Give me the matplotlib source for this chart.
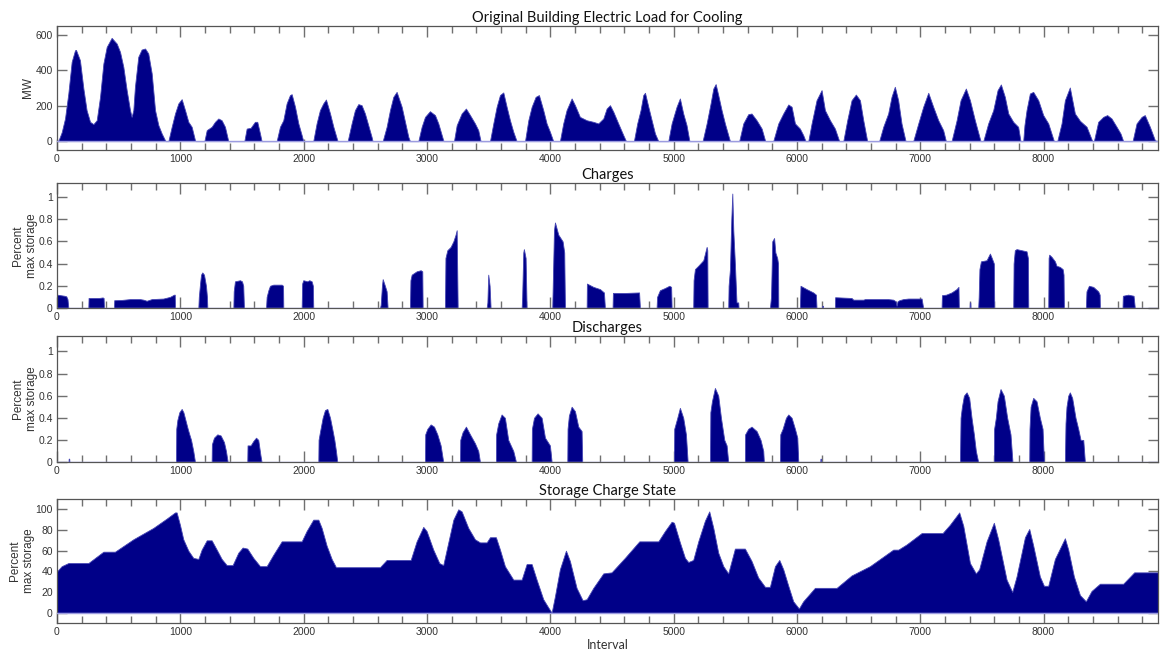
import matplotlib
matplotlib.use("Agg")
import matplotlib.pyplot as plt
from matplotlib.ticker import MultipleLocator, FuncFormatter

# ---------------------------------------------------------------------------
# Hourly building cooling load (MW), breakpoints of each daily-season hump
# ---------------------------------------------------------------------------
load_hour = [
    10, 38, 65, 92, 119, 146, 154, 186, 214, 240, 268, 295, 322, 349, 376, 403,
    443, 484, 511, 538, 565, 592, 605, 619, 632, 659, 686, 714, 740, 768, 795,
    822, 849, 876, 881,
    903, 930, 957, 984, 1011, 1038, 1065, 1092, 1119, 1124,
    1195, 1214, 1254, 1281, 1308, 1335, 1362, 1389,
    1519, 1538, 1570, 1605, 1624, 1646, 1659,
    1781, 1808, 1835, 1862, 1889, 1903, 1930, 1957, 1984, 1997,
    2078, 2105, 2132, 2159, 2181, 2214, 2241, 2273, 2275,
    2357, 2389, 2416, 2443, 2470, 2497, 2524, 2551, 2559,
    2641, 2673, 2700, 2727, 2754, 2795, 2822, 2849, 2862,
    2930, 2957, 2984, 3024, 3065, 3092, 3132, 3135,
    3219, 3241, 3281, 3316, 3349, 3389, 3416, 3435,
    3511, 3538, 3565, 3592, 3619, 3646, 3673, 3700, 3727,
    3795, 3822, 3849, 3881, 3908, 3943, 3970, 3997, 4024,
    4078, 4105, 4132, 4173, 4200, 4240, 4295, 4349, 4389, 4430, 4457, 4484,
    4511, 4551, 4592, 4614,
    4678, 4705, 4732, 4754, 4768, 4795, 4822, 4849, 4876,
    4957, 4984, 5024, 5051, 5078, 5105, 5127, 5130,
    5235, 5268, 5300, 5322, 5341, 5362, 5389, 5416, 5443, 5457,
    5532, 5565, 5605, 5632, 5673, 5714, 5741, 5745,
    5808, 5849, 5889, 5930, 5957, 5984, 6024, 6051, 6070,
    6092, 6119, 6159, 6200, 6227, 6268, 6308, 6343,
    6376, 6408, 6443, 6478, 6511, 6538, 6570,
    6667, 6700, 6740, 6767, 6794, 6821, 6848, 6881,
    6943, 6984, 7024, 7065, 7105, 7146, 7186, 7208,
    7254, 7295, 7327, 7370, 7403, 7443, 7489,
    7511, 7551, 7592, 7627, 7654, 7686, 7714, 7754, 7794, 7813,
    7835, 7845, 7862, 7889, 7916, 7957, 7997, 8038, 8084,
    8111, 8146, 8173, 8213, 8254, 8295, 8349, 8395,
    8408, 8443, 8484, 8516, 8551, 8592, 8624, 8646,
    8722, 8754, 8795, 8821, 8862, 8903, 8916,
]
load_mw = [
    0, 50, 128, 270, 448, 513, 515, 457, 297, 175, 109, 96, 118, 250, 438, 532,
    583, 551, 504, 419, 288, 175, 137, 175, 307, 476, 517, 523, 495, 382, 175,
    90, 43, 5, 0,
    0, 81, 156, 213, 237, 175, 109, 81, 5, 0,
    0, 62, 81, 109, 128, 118, 81, 0,
    0, 71, 75, 109, 109, 43, 0,
    0, 81, 118, 213, 260, 265, 194, 100, 34, 0,
    0, 100, 175, 213, 235, 156, 81, 5, 0,
    0, 100, 175, 209, 203, 156, 90, 24, 0,
    0, 81, 175, 250, 278, 194, 109, 24, 0,
    0, 81, 137, 169, 147, 100, 5, 0,
    0, 90, 156, 184, 147, 100, 62, 0,
    0, 100, 194, 260, 275, 194, 118, 53, 0,
    0, 118, 194, 250, 260, 175, 100, 53, 0,
    0, 100, 175, 241, 203, 137, 118, 109, 100, 128, 184, 203,
    166, 100, 34, 0,
    0, 100, 175, 260, 273, 194, 118, 43, 0,
    0, 100, 194, 241, 156, 90, 5, 0,
    0, 100, 213, 297, 322, 260, 175, 100, 34, 0,
    0, 100, 152, 156, 118, 71, 5, 0,
    0, 100, 156, 207, 194, 100, 71, 34, 0,
    0, 100, 231, 288, 175, 118, 71, 0,
    0, 118, 231, 263, 231, 118, 0,
    0, 81, 156, 250, 307, 231, 100, 0,
    0, 100, 194, 273, 194, 118, 62, 0,
    0, 118, 231, 297, 231, 118, 0,
    0, 100, 175, 288, 320, 250, 156, 109, 81, 0,
    0, 90, 175, 269, 278, 231, 147, 100, 0,
    0, 100, 231, 303, 156, 115, 81, 0,
    0, 109, 137, 147, 128, 81, 43, 0,
    0, 100, 137, 147, 81, 5, 0,
]

# ---------------------------------------------------------------------------
# Storage charging rate (fraction of max storage)
# ---------------------------------------------------------------------------
charge_hour = [
    0, 30, 60, 75, 85, 92,
    254, 256, 300, 340, 370, 378, 381,
    462, 464, 520, 592, 673, 700, 727, 768, 862, 916, 949, 955, 957,
    1146, 1150, 1160, 1168, 1178, 1192, 1208, 1216, 1219,
    1430, 1433, 1443, 1484, 1500, 1510, 1516,
    1695, 1700, 1714, 1727, 1754, 1822, 1833, 1835,
    1984, 1988, 1997, 2030, 2046, 2065, 2075, 2078,
    2619, 2625, 2635, 2641, 2659, 2673, 2681,
    2862, 2866, 2876, 2916, 2949, 2962, 2965,
    3146, 3150, 3165, 3192, 3214, 3232, 3241, 3249,
    3484, 3490, 3497, 3508, 3516,
    3768, 3772, 3781, 3786, 3800, 3808,
    4016, 4020, 4030, 4038, 4065, 4100, 4113, 4119,
    4295, 4297, 4349, 4403, 4435, 4443,
    4505, 4508, 4600, 4720, 4727,
    4862, 4866, 4889, 4930, 4965, 4980, 4984,
    5159, 5162, 5173, 5200, 5241, 5268, 5273, 5276,
    5443, 5446, 5457, 5468, 5476, 5484, 5497, 5510, 5524, 5527,
    5781, 5790, 5800, 5815, 5825, 5840, 5847, 5849,
    6024, 6029, 6078, 6132, 6154, 6159,
    6204, 6206, 6210, 6212,
    6308, 6310, 6443, 6457, 6538, 6552, 6740, 6781, 6800, 6808, 6816, 6830,
    6862, 6903, 7011, 7024,
    7173, 7176, 7210, 7254, 7294, 7310, 7313,
    7400, 7402, 7406, 7408,
    7470, 7474, 7480, 7492, 7538, 7565, 7580, 7597, 7600,
    7754, 7757, 7767, 7781, 7822, 7862, 7873, 7876,
    8038, 8041, 8046, 8065, 8092, 8105, 8132, 8155, 8162, 8165,
    8343, 8348, 8368, 8403, 8443, 8455, 8457,
    8640, 8643, 8686, 8730, 8740,
]
charge_frac = [
    0.12, 0.115, 0.11, 0.105, 0.08, 0,
    0, 0.09, 0.09, 0.09, 0.095, 0.09, 0,
    0, 0.07, 0.072, 0.08, 0.08, 0.075, 0.065, 0.08, 0.085, 0.10, 0.12, 0.12, 0,
    0, 0.10, 0.22, 0.30, 0.32, 0.30, 0.20, 0.10, 0,
    0, 0.15, 0.24, 0.25, 0.24, 0.20, 0,
    0, 0.10, 0.16, 0.20, 0.21, 0.21, 0.20, 0,
    0, 0.22, 0.25, 0.24, 0.25, 0.24, 0.20, 0,
    0, 0.03, 0.20, 0.26, 0.20, 0.15, 0,
    0, 0.25, 0.30, 0.33, 0.34, 0.33, 0,
    0, 0.45, 0.52, 0.55, 0.60, 0.66, 0.70, 0,
    0, 0.05, 0.30, 0.20, 0,
    0, 0.10, 0.50, 0.53, 0.45, 0,
    0, 0.20, 0.70, 0.77, 0.66, 0.60, 0.50, 0,
    0, 0.22, 0.19, 0.17, 0.14, 0,
    0, 0.136, 0.135, 0.14, 0,
    0, 0.10, 0.16, 0.18, 0.20, 0.19, 0,
    0, 0.25, 0.35, 0.38, 0.43, 0.55, 0.52, 0,
    0, 0.20, 0.35, 0.80, 1.03, 0.70, 0.40, 0.05, 0.05, 0,
    0, 0.10, 0.60, 0.63, 0.50, 0.45, 0.40, 0,
    0, 0.20, 0.17, 0.14, 0.12, 0,
    0, 0.02, 0.02, 0,
    0, 0.097, 0.09, 0.075, 0.075, 0.08, 0.08, 0.075, 0.06, 0.02, 0.06, 0.07,
    0.08, 0.085, 0.085, 0,
    0, 0.115, 0.12, 0.14, 0.17, 0.19, 0,
    0, 0.05, 0.05, 0,
    0, 0.10, 0.35, 0.42, 0.43, 0.49, 0.45, 0.40, 0,
    0, 0.40, 0.52, 0.53, 0.52, 0.51, 0.45, 0,
    0, 0.45, 0.48, 0.46, 0.42, 0.38, 0.37, 0.35, 0.30, 0,
    0, 0.15, 0.20, 0.19, 0.15, 0.12, 0,
    0, 0.11, 0.12, 0.11, 0,
]

# ---------------------------------------------------------------------------
# Storage discharging rate (fraction of max storage)
# ---------------------------------------------------------------------------
discharge_hour = [
    93, 95, 99, 101,
    965, 967, 976, 992, 1011, 1025, 1046, 1060, 1073, 1087, 1105, 1119,
    1254, 1256, 1273, 1300, 1327, 1354, 1370, 1384,
    1543, 1545, 1570, 1592, 1614, 1632, 1650, 1659,
    2119, 2121, 2132, 2154, 2173, 2192, 2214, 2232, 2249, 2262, 2273,
    2984, 2986, 3003, 3030, 3057, 3084, 3111, 3132,
    3268, 3270, 3289, 3316, 3349, 3389, 3416, 3430,
    3559, 3561, 3578, 3605, 3632, 3659, 3700, 3722,
    3849, 3851, 3868, 3897, 3930, 3957, 3997, 4011,
    4138, 4140, 4151, 4173, 4200, 4227, 4254, 4259,
    5003, 5005, 5030, 5051, 5078, 5100, 5114,
    5295, 5298, 5311, 5335, 5362, 5384, 5411, 5430, 5443,
    5578, 5580, 5605, 5632, 5673, 5705, 5727, 5732,
    5862, 5865, 5884, 5911, 5930, 5957, 5984, 6003, 6011,
    6189, 6191, 6194, 6196,
    7322, 7327, 7338, 7354, 7376, 7397, 7416, 7435, 7451, 7470,
    7597, 7599, 7613, 7627, 7651, 7678, 7705, 7732, 7748,
    7884, 7886, 7895, 7916, 7943, 7970, 7992, 8003,
    8173, 8178, 8186, 8200, 8213, 8232, 8259, 8281, 8300, 8322, 8335,
]
discharge_frac = [
    0, 0.03, 0.03, 0,
    0, 0.30, 0.38, 0.45, 0.48, 0.45, 0.36, 0.30, 0.25, 0.20, 0.10, 0,
    0, 0.16, 0.22, 0.25, 0.24, 0.18, 0.10, 0,
    0, 0.15, 0.15, 0.19, 0.22, 0.20, 0.06, 0,
    0, 0.20, 0.27, 0.40, 0.47, 0.48, 0.40, 0.30, 0.20, 0.10, 0,
    0, 0.25, 0.30, 0.34, 0.32, 0.25, 0.15, 0,
    0, 0.20, 0.27, 0.32, 0.25, 0.17, 0.10, 0,
    0, 0.25, 0.35, 0.43, 0.40, 0.20, 0.10, 0,
    0, 0.30, 0.40, 0.44, 0.40, 0.22, 0.15, 0,
    0, 0.30, 0.42, 0.50, 0.46, 0.32, 0.28, 0,
    0, 0.30, 0.40, 0.49, 0.40, 0.25, 0,
    0, 0.45, 0.55, 0.67, 0.60, 0.40, 0.20, 0.15, 0,
    0, 0.25, 0.30, 0.32, 0.28, 0.20, 0.10, 0,
    0, 0.25, 0.30, 0.40, 0.43, 0.40, 0.30, 0.22, 0,
    0, 0.03, 0.03, 0,
    0, 0.40, 0.50, 0.60, 0.63, 0.58, 0.40, 0.25, 0.10, 0,
    0, 0.30, 0.40, 0.55, 0.66, 0.60, 0.40, 0.25, 0,
    0, 0.30, 0.50, 0.58, 0.55, 0.40, 0.30, 0,
    0, 0.35, 0.50, 0.60, 0.63, 0.58, 0.40, 0.30, 0.20, 0.20, 0,
]

# ---------------------------------------------------------------------------
# State of charge of the storage (percent of max storage)
# ---------------------------------------------------------------------------
state_hour = [
    0, 38, 92, 254, 376, 470, 619, 781, 889, 957, 970, 997, 1024, 1065, 1105,
    1146, 1173, 1214, 1254, 1295, 1335, 1376, 1424, 1470, 1505, 1543, 1592,
    1646, 1700, 1754, 1822, 1984, 2024, 2078, 2119, 2146, 2186, 2227, 2262,
    2619, 2673, 2868, 2916, 2970, 2997, 3051, 3100, 3132, 3173, 3214, 3254,
    3281, 3335, 3389, 3430, 3484, 3511, 3559, 3592, 3632, 3700, 3768, 3808,
    3849, 3889, 3943, 3984, 4011, 4038, 4078, 4127, 4159, 4213, 4262, 4295,
    4349, 4430, 4497, 4605, 4722, 4876, 4930, 4984, 5003, 5051, 5092, 5119,
    5159, 5200, 5254, 5289, 5322, 5362, 5403, 5443, 5470, 5497, 5578, 5632,
    5686, 5741, 5781, 5822, 5857, 5889, 5930, 5970, 6016, 6051, 6146, 6322,
    6443, 6592, 6781, 6822, 6889, 7011, 7181, 7240, 7316, 7349, 7403, 7451,
    7478, 7538, 7597, 7632, 7700, 7746, 7781, 7849, 7884, 7916, 7970, 8003,
    8038, 8092, 8173, 8200, 8246, 8295, 8343, 8389, 8457, 8646, 8735, 8928,
]
state_pct = [
    40, 45, 48, 48, 59, 59, 71, 82, 91, 97, 97, 85, 71, 60, 53,
    52, 61, 70, 70, 61, 52, 46, 46, 58, 63, 62, 53,
    45, 45, 56, 69, 69, 79, 90, 90, 82, 65, 52, 44,
    44, 51, 51, 69, 83, 79, 61, 48, 46, 68, 90, 100,
    98, 82, 71, 68, 68, 73, 73, 61, 45, 32, 32, 47,
    47, 32, 13, 5, 0, 16, 42, 60, 50, 24, 12, 13,
    24, 38, 39, 53, 69, 69, 79, 88, 87, 68, 53, 49,
    51, 69, 89, 98, 82, 58, 45, 38, 50, 62, 62, 50,
    34, 25, 25, 45, 51, 42, 26, 11, 4, 11, 24, 24,
    36, 45, 61, 61, 66, 77, 77, 85, 97, 84, 48, 38,
    42, 69, 87, 71, 32, 20, 35, 73, 81, 65, 35, 26,
    26, 52, 72, 61, 35, 17, 11, 21, 28, 28, 39, 39,
]

titles = ["Original Building Electric Load for Cooling", "Charges",
          "Discharges", "Storage Charge State"]
ylabels = ["MW", "Percent\nmax storage", "Percent\nmax storage",
           "Percent\nmax storage"]
xlabel = "Interval"

NAVY = "#000088"
EDGE = "#4646b4"
BASE = "#9c9ce0"
SPINE = "#555555"
TICK = "#707070"
TXT = "#333333"
X_MAX = 8928

W, H = 1160, 652
# (left, top, right, bottom) in pixels for each panel
boxes = [(57, 26, 1158, 150), (57, 183, 1158, 308),
         (57, 336, 1158, 462), (57, 499, 1158, 623)]
ylims = [(-50, 650), (0, 1.125), (0, 1.14), (-10, 110)]
ysteps = [200, 0.2, 0.2, 20]
series = [(load_hour, load_mw), (charge_hour, charge_frac),
          (discharge_hour, discharge_frac), (state_hour, state_pct)]

fig = plt.figure(figsize=(W / 100, H / 100), dpi=100)

for i, ((l, t, r, b), (xs, ys)) in enumerate(zip(boxes, series)):
    ax = fig.add_axes([l / W, 1 - b / H, (r - l) / W, (b - t) / H])
    ax.fill_between(xs, ys, 0, facecolor=NAVY, edgecolor=EDGE,
                    linewidth=0.6, zorder=2)
    ax.axhline(0, color=BASE, lw=1.0, zorder=3)
    ax.set_xlim(0, X_MAX)
    ax.set_ylim(*ylims[i])

    ax.xaxis.set_major_locator(MultipleLocator(1000))
    ax.xaxis.set_minor_locator(MultipleLocator(200))
    ax.yaxis.set_major_locator(MultipleLocator(ysteps[i]))
    ax.yaxis.set_major_formatter(FuncFormatter(lambda v, p: f"{v:g}"))
    ax.tick_params(which="both", direction="in", top=True, right=True,
                   color=TICK, width=1.0, labelsize=7.5, labelcolor=TXT,
                   pad=3)
    ax.tick_params(axis="x", which="major", length=8)
    ax.tick_params(axis="x", which="minor", length=5)
    ax.tick_params(axis="y", which="major", length=7)
    for lab in ax.get_xticklabels() + ax.get_yticklabels():
        lab.set_family("Liberation Sans")
    for s in ax.spines.values():
        s.set_color(SPINE)
        s.set_linewidth(0.9)

    ax.set_title(titles[i], family="Lato", fontsize=10.5, color="#111111",
                 pad=3)
    ax.set_ylabel(ylabels[i], family="Liberation Sans", fontsize=8.5,
                  color=TXT, labelpad=1 if i == 0 else 0, linespacing=1.3)
    if i == 3:
        ax.set_xlabel(xlabel, family="Lato", fontsize=9, color=TXT,
                      labelpad=1.5)

fig.savefig("out.png", dpi=100)
